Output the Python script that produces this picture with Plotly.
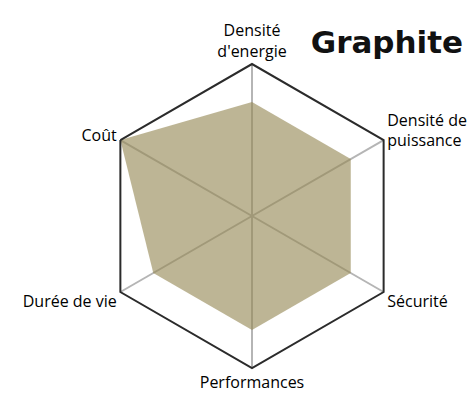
import plotly.graph_objects as go

# Radar chart: Graphite anode profile
categories = [
    "Densité<br>d'energie",
    "Densité de<br>puissance",
    "Sécurité",
    "Performances",
    "Durée de vie",
    "Coût",
]
scores = [3, 3, 3, 3, 3, 4]
max_score = 4

fig = go.Figure()

fig.add_trace(go.Scatterpolar(
    r=scores + scores[:1],
    theta=categories + categories[:1],
    mode='lines',
    fill='toself',
    fillcolor='rgba(148,136,84,0.62)',
    line=dict(width=0),
    hoverinfo='skip',
))

fig.update_layout(
    width=476,
    height=397,
    margin=dict(l=0, r=0, t=0, b=0, autoexpand=False),
    paper_bgcolor='white',
    plot_bgcolor='white',
    showlegend=False,
    font=dict(family='Open Sans', size=16, color='#000000'),
    title=dict(
        text='<b>Graphite</b>',
        x=0.796, y=0.915,
        xanchor='center', yanchor='middle',
        font=dict(family='DejaVu Sans', size=31, color='#111111'),
    ),
    polar=dict(
        domain=dict(x=[0.1933, 0.8319], y=[0.0932, 0.8589]),
        gridshape='linear',
        bgcolor='white',
        radialaxis=dict(
            range=[0, max_score],
            visible=True,
            showgrid=False,
            showline=False,
            showticklabels=False,
            ticks='',
        ),
        angularaxis=dict(
            rotation=90,
            direction='clockwise',
            showline=True,
            linecolor='#2b2b2b',
            linewidth=2,
            showgrid=True,
            gridcolor='#b5b5b5',
            gridwidth=1.5,
            ticks='',
            tickfont=dict(family='Open Sans', size=16, color='#000000'),
        ),
    ),
)

fig.write_html("out.html")
